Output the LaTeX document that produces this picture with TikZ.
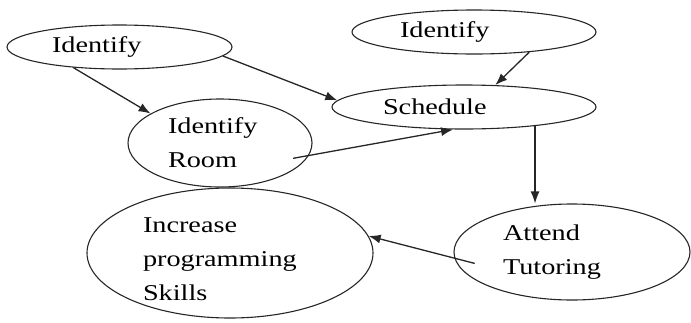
\documentclass[tikz,border=0pt]{standalone}
\usepackage{fontspec}
\setmainfont{Liberation Serif}[FakeStretch=1.25]
\usepackage{tikz}
\usetikzlibrary{arrows.meta, shapes, positioning}

\begin{document}
\begin{tikzpicture}[
    x=1pt, y=-1pt,
    on grid,
    oval/.style={ellipse, draw=black!85, line width=1.1pt, inner sep=0pt, align=left, font=\fontsize{22.6}{34}\selectfont},
    arrow/.style={-{Latex[length=12pt, width=9pt]}, line width=1.3pt, color=black!85}
    ]
    \useasboundingbox (0,0) rectangle (691,322);

    % Nodes
    \node[oval, minimum width=225pt, minimum height=44pt, text width=135pt] (identA) at (119.5,47) {Identify};
    \node[oval, minimum width=184pt, minimum height=88pt, text width=104pt, below right=96pt and 100.5pt of identA] (room) {Identify\\Room};
    \node[oval, minimum width=264pt, minimum height=44pt, text width=162pt, above right=36pt and 244pt of room] (sched) {Schedule};
    \node[oval, minimum width=244pt, minimum height=44pt, text width=148pt, above right=75pt and 10pt of sched] (identB) {Identify};
    \node[oval, minimum width=236pt, minimum height=96pt, text width=138pt, below right=145pt and 108pt of sched] (tutor) {Attend\\Tutoring};
    \node[oval, minimum width=286pt, minimum height=130pt, text width=174pt, inner ysep=-8pt, below right=110pt and 10pt of room] (skills) {\rule{0pt}{28pt}Increase\\programming\\Skills};

    % Edges
    \draw[arrow] (identA.204) -- (room.157);
    \draw[arrow] (identA.355) -- (sched.177);
    \draw[arrow] (identB.340) -- (sched.35);
    \draw[arrow, shorten <=-16pt] (room.352) -- (sched.244);
    \draw[arrow] (sched.345) -- (sched.345 |- tutor.north);
    \draw[arrow, shorten <=-21pt] (tutor.183) -- (skills.7);
\end{tikzpicture}
\end{document}
